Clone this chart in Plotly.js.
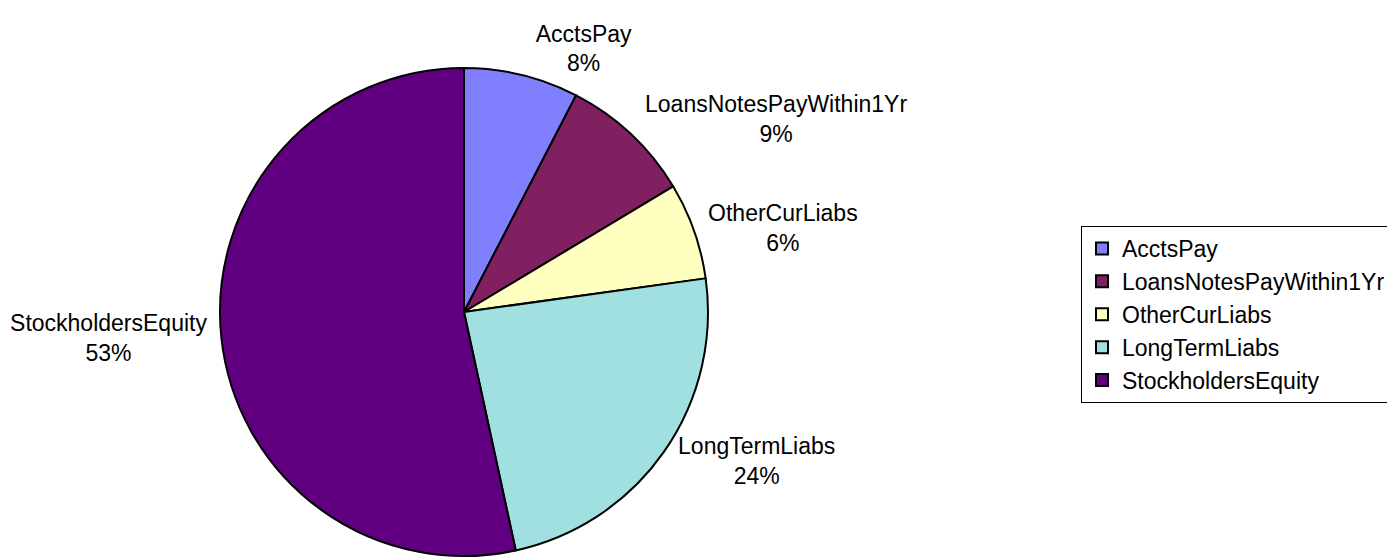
<!DOCTYPE html>
<html>
<head>
<meta charset="utf-8">
<script src="https://cdn.plot.ly/plotly-3.0.1.min.js"></script>
<style>html,body{margin:0;padding:0;background:#fff;}#chart{width:1387px;height:558px;}</style>
</head>
<body>
<div id="chart"></div>
<script>
const categories = ["AcctsPay", "LoansNotesPayWithin1Yr", "OtherCurLiabs", "LongTermLiabs", "StockholdersEquity"];
const values = [7.6, 8.8, 6.4, 23.8, 53.4];
const colors = ["#8080FF", "#802060", "#FFFFC0", "#A0E0E0", "#600080"];

const W = 1387, H = 558;
const cx = 464, cy = 312, r = 244;
const FONT = "Liberation Sans, Arial, sans-serif";

const trace = {
  type: "pie",
  labels: categories,
  values: values,
  sort: false,
  direction: "clockwise",
  rotation: 0,
  marker: { colors: colors, line: { color: "#000000", width: 2 } },
  textinfo: "label+percent",
  texttemplate: "%{label}<br>%{percent:.0%}",
  textposition: "outside",
  outsidetextfont: { family: FONT, size: 23, color: "#000" },
  hoverinfo: "label+percent",
  domain: { x: [(cx - r) / W, (cx + r) / W], y: [(H - cy - r) / H, (H - cy + r) / H] },
  automargin: false
};

const layout = {
  width: W, height: H,
  margin: { l: 0, r: 0, t: 0, b: 0, autoexpand: false },
  paper_bgcolor: "#ffffff",
  font: { family: FONT, size: 23, color: "#000" },
  showlegend: true,
  legend: {
    x: 1081 / W, y: (H - 226) / H, xanchor: "left", yanchor: "top",
    bordercolor: "#000", borderwidth: 1, bgcolor: "#fff",
    font: { family: FONT, size: 23, color: "#000" },
    traceorder: "normal"
  }
};

Plotly.newPlot("chart", [trace], layout, { displayModeBar: false, staticPlot: true });
</script>
</body>
</html>
